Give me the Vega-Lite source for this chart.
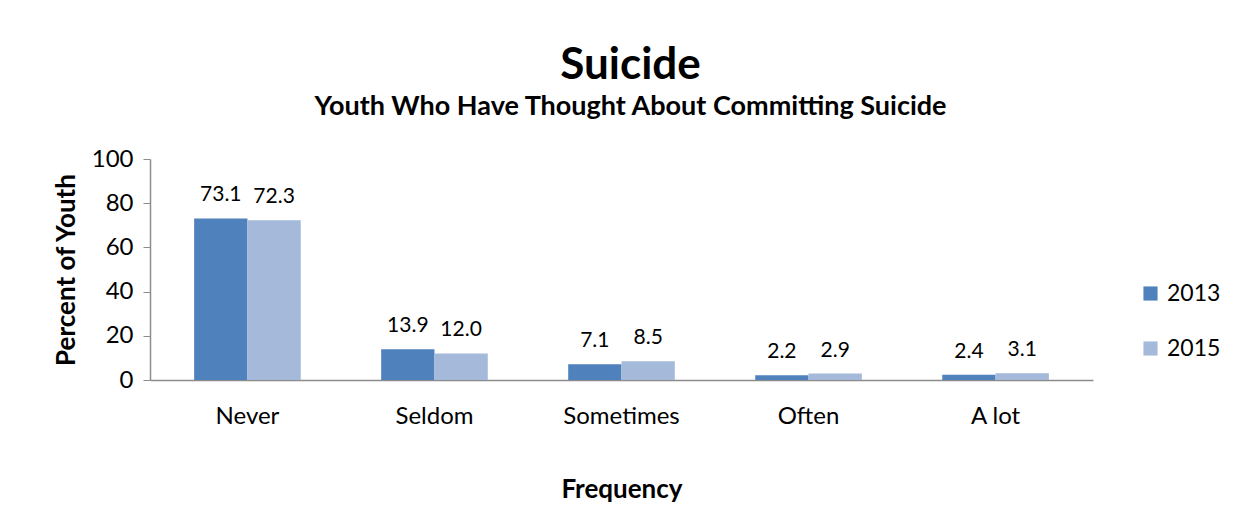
{
  "$schema": "https://vega.github.io/schema/vega-lite/v6.json",
  "autosize": "none",
  "width": 943,
  "height": 221,
  "padding": {"left": 150, "top": 159, "right": 159, "bottom": 130},
  "background": "white",
  "title": {
    "text": "Suicide",
    "subtitle": "Youth Who Have Thought About Committing Suicide",
    "anchor": "middle",
    "font": "Lato",
    "fontSize": 44,
    "fontWeight": "bold",
    "color": "black",
    "subtitleFont": "Lato",
    "subtitleFontSize": 27,
    "subtitleFontWeight": "bold",
    "subtitleColor": "black",
    "subtitlePadding": 6,
    "offset": 27,
    "dx": 9
  },
  "data": {
    "values": [
      {"freq": "Never", "year": "2013", "pct": 73.1},
      {"freq": "Never", "year": "2015", "pct": 72.3},
      {"freq": "Seldom", "year": "2013", "pct": 13.9},
      {"freq": "Seldom", "year": "2015", "pct": 12.0},
      {"freq": "Sometimes", "year": "2013", "pct": 7.1},
      {"freq": "Sometimes", "year": "2015", "pct": 8.5},
      {"freq": "Often", "year": "2013", "pct": 2.2},
      {"freq": "Often", "year": "2015", "pct": 2.9},
      {"freq": "A lot", "year": "2013", "pct": 2.4},
      {"freq": "A lot", "year": "2015", "pct": 3.1}
    ]
  },
  "encoding": {
    "x": {
      "field": "freq",
      "type": "nominal",
      "sort": ["Never", "Seldom", "Sometimes", "Often", "A lot"],
      "scale": {"paddingInner": 0.43, "paddingOuter": 0.236},
      "axis": {
        "title": "Frequency",
        "labelAngle": 0,
        "ticks": false,
        "labelPadding": 24,
        "titlePadding": 48,
        "labelFont": "Lato",
        "labelFontSize": 24,
        "labelColor": "black",
        "titleFont": "Lato",
        "titleFontSize": 26,
        "titleFontWeight": "bold",
        "titleColor": "black",
        "domainColor": "#8c8c8c",
        "domainWidth": 1.5
      }
    },
    "xOffset": {"field": "year", "type": "nominal"},
    "y": {
      "field": "pct",
      "type": "quantitative",
      "scale": {"domain": [0, 100], "nice": false},
      "axis": {
        "title": "Percent of Youth",
        "values": [0, 20, 40, 60, 80, 100],
        "grid": false,
        "tickSize": 7,
        "tickColor": "#8c8c8c",
        "domainColor": "#8c8c8c",
        "domainWidth": 1.5,
        "labelPadding": 10,
        "labelFont": "Lato",
        "labelFontSize": 24,
        "labelColor": "black",
        "titleFont": "Lato",
        "titleFontSize": 26,
        "titleFontWeight": "bold",
        "titleColor": "black",
        "titlePadding": 12
      }
    }
  },
  "layer": [
    {
      "mark": {"type": "bar"},
      "encoding": {
        "color": {
          "field": "year",
          "type": "nominal",
          "scale": {"domain": ["2013", "2015"], "range": ["#4F81BD", "#A5B9DA"]},
          "legend": {
            "title": null,
            "orient": "none",
            "legendX": 989,
            "legendY": 123,
            "symbolType": "square",
            "symbolSize": 200,
            "symbolStrokeWidth": 0,
            "rowPadding": 31,
            "labelFont": "Lato",
            "labelFontSize": 23,
            "labelColor": "black",
            "labelOffset": 5
          }
        }
      }
    },
    {
      "mark": {"type": "text", "dy": -23, "font": "Lato", "fontSize": 21, "color": "black"},
      "encoding": {
        "text": {"field": "pct", "type": "quantitative", "format": ".1f"}
      }
    }
  ],
  "config": {"view": {"stroke": null}}
}
